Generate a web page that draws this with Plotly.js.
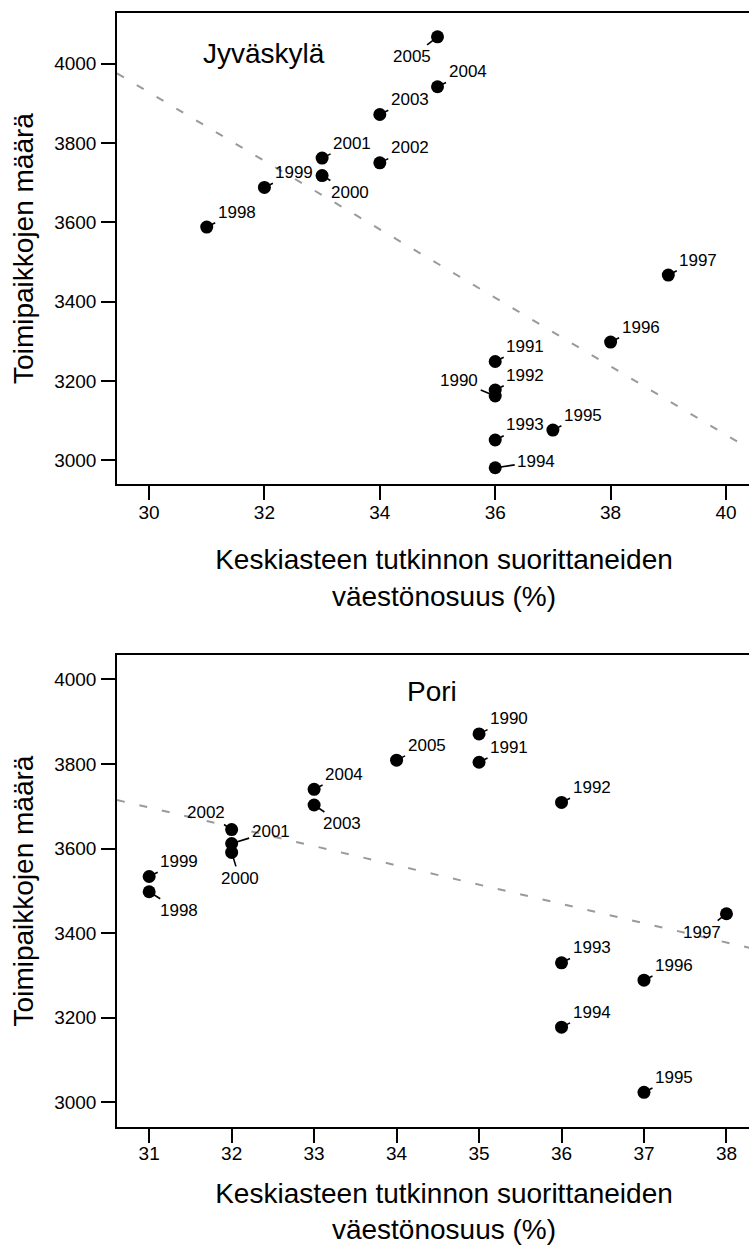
<!DOCTYPE html>
<html>
<head>
<meta charset="utf-8">
<script src="https://cdn.plot.ly/plotly-3.0.1.min.js"></script>
<style>
html,body{margin:0;padding:0;background:#fff;overflow:hidden;}
#chart{width:771px;height:1245px;}
</style>
</head>
<body>
<div id="chart"></div>
<script>
// ---------- data ----------
const years = [1990,1991,1992,1993,1994,1995,1996,1997,1998,1999,2000,2001,2002,2003,2004,2005];
const jyvEdu  = [36,36,36,36,36,37,38,39,31,32,33,33,34,34,35,35];
const jyvJobs = [3162,3249,3177,3051,2981,3076,3298,3467,3588,3688,3718,3762,3750,3872,3942,4068];
const poriEdu  = [35,35,36,36,36,37,37,38,31,31,32,32,32,33,33,34];
const poriJobs = [3871,3804,3709,3330,3178,3024,3289,3446,3498,3534,3591,3612,3645,3703,3740,3809];
const panelTitles = ["Jyväskylä", "Pori"];
const xTitle = "Keskiasteen tutkinnon suorittaneiden<br>väestönosuus (%)";
const yTitle = "Toimipaikkojen määrä";
const jyvXTicks = [30,32,34,36,38,40];
const poriXTicks = [31,32,33,34,35,36,37,38];
const yTicks = [3000,3200,3400,3600,3800,4000];

// ---------- label placement (pixel offsets, layout only) ----------
const DEF_OFF = [30,-15];
const jyvOff  = {2005:[-26,20], 2000:[28,17], 1990:[-36,-15], 1994:[41,-6]};
const poriOff = {2003:[28,19], 2002:[-26,-17], 2001:[39,-12], 2000:[8,26], 1998:[30,19], 1997:[-24,19]};

const FONT = "Liberation Sans, Arial, Helvetica, sans-serif";

function fit(xs, ys){
  const n = xs.length;
  const mx = xs.reduce((a,b)=>a+b,0)/n, my = ys.reduce((a,b)=>a+b,0)/n;
  let sxx=0, sxy=0;
  for(let i=0;i<n;i++){ sxx+=(xs[i]-mx)*(xs[i]-mx); sxy+=(xs[i]-mx)*(ys[i]-my); }
  const b = sxy/sxx; return {a: my-b*mx, b};
}

// plot region extends slightly past the 749px window, as in the reference
const jyvRange = [29.445, 40.78];
const poriRange = [30.61, 38.54];

function fitTrace(xs, ys, range, xa, ya){
  const f = fit(xs, ys);
  return {type:'scatter', mode:'lines', x:range, y:range.map(v=>f.a+f.b*v),
    xaxis:xa, yaxis:ya, hoverinfo:'skip', cliponaxis:true,
    line:{color:'#9a9a9a', width:2, dash:'8px,15px'}};
}
function pointTrace(xs, ys, xa, ya){
  return {type:'scatter', mode:'markers', x:xs, y:ys, xaxis:xa, yaxis:ya,
    text: years.map(String), hoverinfo:'x+y+text',
    marker:{color:'#000', size:13, line:{width:0}}};
}
function labelAnns(xs, ys, offs, xref, yref){
  return years.map((yr,i)=>{
    const o = offs[yr] || DEF_OFF;
    return {x:xs[i], y:ys[i], xref:xref, yref:yref, text:String(yr),
      showarrow:true, arrowhead:0, arrowwidth:1.6, arrowcolor:'#000',
      ax:o[0], ay:o[1], standoff:0, startstandoff:0, borderpad:2,
      font:{family:FONT, size:17, color:'#000'}};
  });
}

const axisBase = {
  showline:true, linecolor:'#000', linewidth:1.5,
  ticks:'outside', ticklen:14, tickwidth:1.5, tickcolor:'#000',
  showgrid:false, zeroline:false, fixedrange:true,
  tickfont:{family:FONT, size:19, color:'#000'}
};

const data = [
  fitTrace(jyvEdu, jyvJobs, jyvRange, 'x', 'y'),
  pointTrace(jyvEdu, jyvJobs, 'x', 'y'),
  fitTrace(poriEdu, poriJobs, poriRange, 'x2', 'y2'),
  pointTrace(poriEdu, poriJobs, 'x2', 'y2')
];

const titleFont = {family:FONT, size:28, color:'#000'};
const layout = {
  width:771, height:1245,
  margin:{l:117, r:0, t:13, b:118},
  paper_bgcolor:'#fff', plot_bgcolor:'#fff',
  showlegend:false,
  font:{family:FONT, color:'#000'},
  xaxis: Object.assign({}, axisBase, {domain:[0,1], anchor:'y', range:jyvRange, tickvals:jyvXTicks,
    mirror:true, ticklabelstandoff:-4,
    title:{text:xTitle, font:titleFont, standoff:28}}),
  yaxis: Object.assign({}, axisBase, {domain:[0.5772,1], anchor:'x', range:[2940,4128], tickvals:yTicks,
    ticklabelstandoff:1,
    title:{text:yTitle, font:titleFont, standoff:12}}),
  xaxis2: Object.assign({}, axisBase, {domain:[0,1], anchor:'y2', range:poriRange, tickvals:poriXTicks,
    mirror:true, ticklabelstandoff:-6,
    title:{text:xTitle, font:titleFont, standoff:26}}),
  yaxis2: Object.assign({}, axisBase, {domain:[0,0.4237], anchor:'x2', range:[2942,4057.5], tickvals:yTicks,
    ticklabelstandoff:1,
    title:{text:yTitle, font:titleFont, standoff:12}}),
  annotations: [
    {x:32.0, y:4026, xref:'x', yref:'y', text:panelTitles[0], showarrow:false, font:titleFont},
    {x:34.43, y:3972, xref:'x2', yref:'y2', text:panelTitles[1], showarrow:false, font:titleFont}
  ].concat(labelAnns(jyvEdu, jyvJobs, jyvOff, 'x', 'y'))
   .concat(labelAnns(poriEdu, poriJobs, poriOff, 'x2', 'y2'))
};

Plotly.newPlot('chart', data, layout, {displayModeBar:false});
</script>
</body>
</html>
